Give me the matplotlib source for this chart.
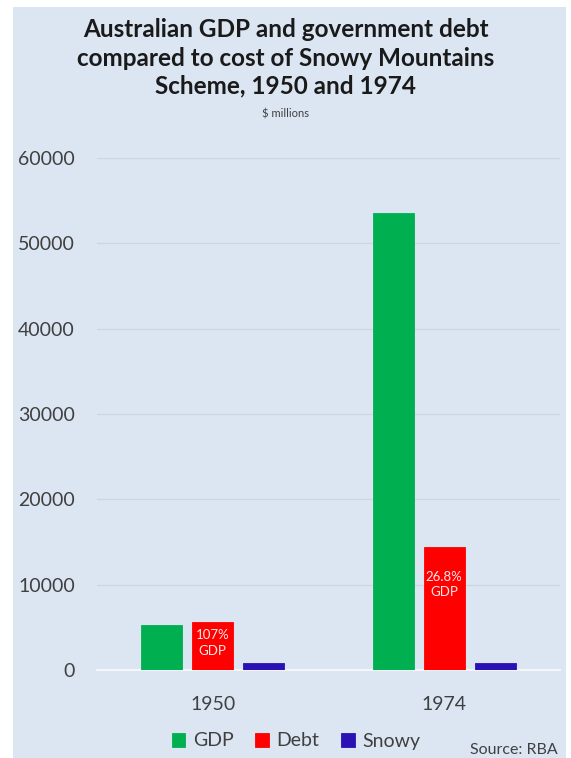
import matplotlib.pyplot as plt
import numpy as np
from matplotlib.patches import Rectangle

# ----------------------------------------
# DATA ($ millions)
# ----------------------------------------
years = ["1950", "1974"]
gdp = [5300, 53600]
debt = [5670, 14400]
snowy = [820, 820]
debt_labels = ["107%\nGDP", "26.8%\nGDP"]

series_names = ["GDP", "Debt", "Snowy"]
colors = ["#00b050", "#ff0000", "#2a12b4"]

BG = "#dce6f2"
FONT = "Lato"

# ----------------------------------------
# FIGURE
# ----------------------------------------
fig = plt.figure(figsize=(5.71, 7.58), dpi=100)
fig.patch.set_facecolor("white")
fig.patches.append(Rectangle((13 / 571, 0), (566 - 13) / 571, 1 - 7 / 758,
                             transform=fig.transFigure, facecolor=BG,
                             edgecolor="none", zorder=-10))

ax = fig.add_axes([97 / 571, 1 - 670 / 758, (560 - 97) / 571, (670 - 158) / 758])
ax.set_facecolor("none")

x = np.arange(len(years))
w = 0.177
step = 0.22
for i, (vals, name, c) in enumerate(zip([gdp, debt, snowy], series_names, colors)):
    ax.bar(x + (i - 1) * step, vals, width=w, color=c, label=name,
           edgecolor=c, linewidth=0.6, zorder=3)

# labels sit a bit below the top of each debt bar
label_drop = [2500, 4400]
for xi, d, drop, lab in zip(x, debt, label_drop, debt_labels):
    ax.text(xi, d - drop, lab, ha="center", va="center",
            color="#fde8e8", fontsize=9.5, family=FONT, zorder=4, linespacing=1.35)

ax.set_xlim(-0.5, 1.5)
ax.set_ylim(0, 60000)
ax.set_yticks(range(0, 60001, 10000))
ax.set_xticks(x)
ax.set_xticklabels(years)
ax.grid(axis="y", color="#ccd5e0", linewidth=0.9, zorder=0)
for s in ["top", "right", "left"]:
    ax.spines[s].set_visible(False)
ax.spines["bottom"].set_color("#f4f7fa")
ax.spines["bottom"].set_linewidth(1.5)
ax.tick_params(axis="both", length=0, labelsize=14, labelcolor="#404040")
ax.tick_params(axis="y", pad=16)
ax.tick_params(axis="x", pad=19)
for t in ax.get_xticklabels() + ax.get_yticklabels():
    t.set_family(FONT)

# ----------------------------------------
# TITLES / LEGEND / SOURCE
# ----------------------------------------
fig.text(0.5, 1 - 58 / 758,
         "Australian GDP and government debt\ncompared to cost of Snowy Mountains\nScheme, 1950 and 1974",
         ha="center", va="center", fontsize=17.5, fontweight="bold",
         family=FONT, color="#1a1a1a", linespacing=1.28)
fig.text(0.5, 1 - 114 / 758, "$ millions", ha="center", va="center",
         fontsize=8, family=FONT, color="#404040")

leg = fig.legend(loc="center", bbox_to_anchor=(296 / 571, 1 - 741 / 758), ncol=3,
                 frameon=False, handlelength=0.7, handleheight=0.7,
                 handletextpad=0.4, columnspacing=1.1,
                 prop={"family": FONT, "size": 14})
for t in leg.get_texts():
    t.set_color("#404040")

fig.text(558 / 571, 1 - 750 / 758, "Source: RBA", ha="right", va="center",
         fontsize=11.5, family=FONT, color="#404040")

fig.savefig("out.png", dpi=100, facecolor=fig.get_facecolor())
